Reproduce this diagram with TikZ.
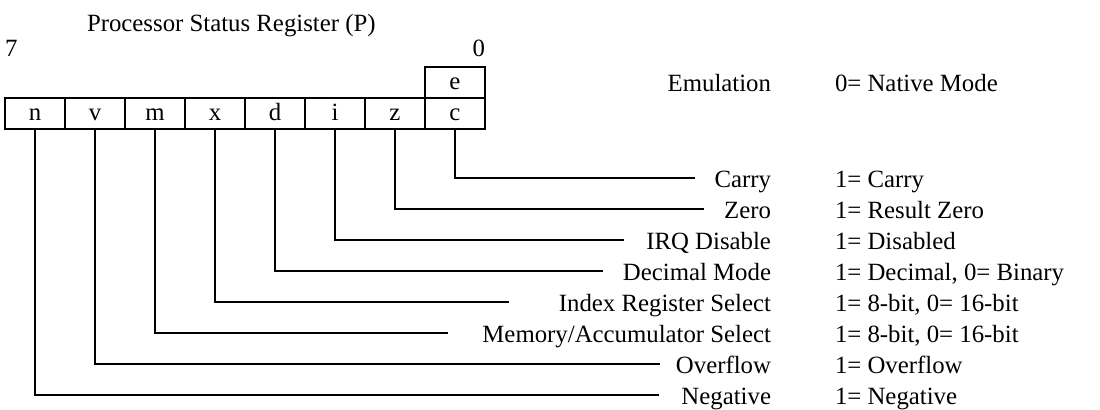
\documentclass[tikz,border=0pt]{standalone}
\usepackage{fontspec}
\setmainfont{Liberation Serif}
\usetikzlibrary{positioning}

\begin{document}
\begin{tikzpicture}[x=0.5pt, y=-0.5pt, line width=1pt,
    every node/.style={font=\fontsize{12.4}{14}\selectfont, inner sep=0pt, outer sep=0pt},
    bitcell/.style={draw, minimum width=30pt, minimum height=15.5pt, text height=7pt, text depth=0pt},
    flagname/.style={anchor=east, text height=10pt, text depth=0.5pt},
    flagval/.style={anchor=west, text height=10pt, text depth=0.5pt}]
    \def\namex{771}
    \def\rowy{113.5}

    \useasboundingbox (0,0) rectangle (1100,410);

    % Title and bit numbers
    \node[anchor=base west] (title) at (87,32) {Processor Status Register (P)};
    \node[anchor=base west] (msb) at (5,57) {7};
    \node[anchor=base east] (lsb) at (485,57) {0};

    % Draw the register cells
    \foreach \bit [count=\i from 0] in {n,v,m,x,d,i,z,c}
        \node[bitcell] (\bit) at (35+60*\i,\rowy) {\bit};
    \node[bitcell, above=0pt of c] (e) {e};

    % Emulation bit
    \node[flagname] (emul) at (\namex,82.5) {Emulation};
    \node[flagval, right=32pt of emul] (emulval) {0= Native Mode};

    % Flag names, meanings and leader lines
    \foreach \bit/\lab/\txt/\val/\yy/\gap in {
        c/carry/Carry/1= Carry/178/10,
        z/zero/Zero/1= Result Zero/209/10,
        i/irq/IRQ Disable/1= Disabled/240/11,
        d/dec/Decimal Mode/{1= Decimal, 0= Binary}/271/10,
        x/index/Index Register Select/{1= 8-bit, 0= 16-bit}/302/25,
        m/mem/{Memory/Accumulator Select}/{1= 8-bit, 0= 16-bit}/333/17,
        v/ovf/Overflow/1= Overflow/364/8,
        n/neg/Negative/1= Negative/395/11} {
        \node[flagname] (\lab) at (\namex,\yy) {\txt};
        \node[flagval, right=32pt of \lab] (\lab val) {\val};
        \draw (\bit.south) |- ([xshift=-\gap pt]\lab.west);
    }
\end{tikzpicture}
\end{document}
